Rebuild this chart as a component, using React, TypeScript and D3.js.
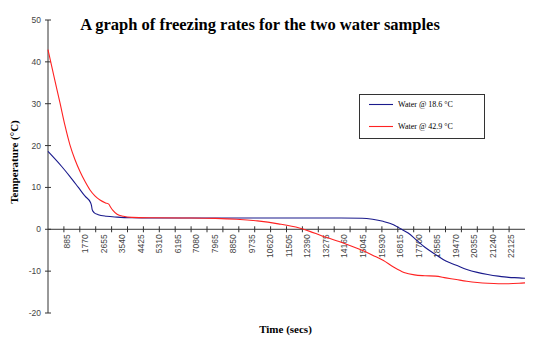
import React from "react";
import * as d3 from "d3";

const title = "A graph of freezing rates for the two water samples";
const xTitle = "Time (secs)";
const yTitle = "Temperature (°C)";
const seriesNames = ["Water @ 18.6 °C", "Water @ 42.9 °C"];
const seriesColors = ["#1a1a8c", "#ff2222"];

const xTickLabels = [885, 1770, 2655, 3540, 4425, 5310, 6195, 7080, 7965, 8850, 9735, 10620, 11505, 12390, 13275, 14160, 15045, 15930, 16815, 17700, 18585, 19470, 20355, 21240, 22125];
const yTicks = [50, 40, 30, 20, 10, 0, -10, -20];

const blueTime = [0, 655, 1050, 1450, 1770, 2030, 2080, 2110, 2200, 2400, 2800, 3300, 4000, 5000, 8000, 11000, 14000, 15000, 15500, 16000, 16500, 16815, 17200, 17600, 18000, 18500, 19000, 19500, 20000, 20500, 21000, 21500, 22000, 22500, 22780];
const blueTemp = [18.6, 15.0, 12.6, 10.0, 7.9, 6.4, 5.6, 4.7, 4.0, 3.5, 3.1, 2.9, 2.75, 2.7, 2.7, 2.7, 2.7, 2.65, 2.4, 1.9, 1.1, 0.2, -0.9, -2.6, -4.3, -6.0, -7.6, -8.6, -9.6, -10.3, -10.8, -11.2, -11.5, -11.6, -11.7];

const redTime = [0, 290, 573, 810, 1051, 1290, 1528, 1770, 2006, 2240, 2483, 2750, 2900, 3000, 3100, 3300, 3600, 4000, 5000, 6500, 8000, 9000, 10000, 11000, 12000, 12500, 13000, 14000, 15000, 15500, 16000, 16500, 17000, 17500, 18000, 18500, 19000, 19500, 20000, 20500, 21000, 21500, 22000, 22500, 22780];
const redTemp = [42.9, 36.4, 30.2, 24.8, 20.1, 16.6, 13.8, 11.4, 9.4, 8.0, 7.0, 6.3, 6.0, 5.2, 4.5, 3.6, 3.1, 2.85, 2.75, 2.7, 2.6, 2.4, 2.0, 1.3, 0.3, -0.5, -1.4, -3.1, -5.0, -6.2, -7.4, -9.0, -10.3, -10.9, -11.1, -11.2, -11.6, -12.0, -12.4, -12.7, -12.9, -13.0, -13.0, -12.9, -12.8];

const W = 540, H = 353;
const left = 48, right = 525, top = 20, bottom = 313;

export default function App() {
  const x = d3.scaleLinear().domain([0, 22780]).range([left, right]);
  const y = d3.scaleLinear().domain([-20, 50]).range([bottom, top]);
  const line = d3.line<[number, number]>().x(d => x(d[0])).y(d => y(d[1])).curve(d3.curveMonotoneX);
  const blue = blueTime.map((t, i) => [t, blueTemp[i]] as [number, number]);
  const red = redTime.map((t, i) => [t, redTemp[i]] as [number, number]);
  const y0 = y(0);
  const tickCount = 30;
  const tickPos = d3.range(1, tickCount).map(k => left + (right - left) * k / tickCount);
  const axisColor = "#333";
  return (
    <svg width={W} height={H} style={{ position: "absolute", left: 0, top: 0, background: "#fff" }}>
      <text x={260} y={30} textAnchor="middle" fontFamily="Liberation Serif" fontWeight="bold" fontSize={16.5} fill="#000">{title}</text>
      {/* y axis */}
      <line x1={left} x2={left} y1={top} y2={bottom} stroke={axisColor} strokeWidth={1} />
      {yTicks.map(v => (
        <g key={v}>
          <line x1={left - 3} x2={left + 3} y1={y(v)} y2={y(v)} stroke={axisColor} />
          <text x={41} y={y(v)} dy="0.35em" textAnchor="end" fontFamily="Liberation Sans" fontSize={8.5} fill="#444">{v}</text>
        </g>
      ))}
      {/* x axis */}
      <line x1={left} x2={right} y1={y0} y2={y0} stroke={axisColor} strokeWidth={1} />
      {tickPos.map((p, i) => (
        <line key={i} x1={p} x2={p} y1={y0 - 3} y2={y0 + 3} stroke={axisColor} />
      ))}
      {xTickLabels.map(v => (
        <text key={v} transform={`translate(${x(v)},${y0 + 5}) rotate(-90)`} dy="0.35em" textAnchor="end" fontFamily="Liberation Sans" fontSize={8.5} fill="#444">{v}</text>
      ))}
      <path d={line(blue) || ""} fill="none" stroke={seriesColors[0]} strokeWidth={1.1} />
      <path d={line(red) || ""} fill="none" stroke={seriesColors[1]} strokeWidth={1.1} />
      <text transform={`translate(18,162) rotate(-90)`} textAnchor="middle" fontFamily="Liberation Serif" fontWeight="bold" fontSize={11} fill="#000">{yTitle}</text>
      <text x={285.5} y={333} textAnchor="middle" fontFamily="Liberation Serif" fontWeight="bold" fontSize={11} fill="#000">{xTitle}</text>
      {/* legend */}
      <rect x={359.5} y={94.5} width={125} height={44} fill="#fff" stroke={axisColor} />
      {seriesNames.map((n, i) => (
        <g key={n}>
          <line x1={369} x2={393} y1={104.5 + i * 22} y2={104.5 + i * 22} stroke={seriesColors[i]} strokeWidth={1.1} />
          <text x={398} y={104.5 + i * 22} dy="0.35em" fontFamily="Liberation Serif" fontSize={8} fill="#000">{n}</text>
        </g>
      ))}
    </svg>
  );
}
